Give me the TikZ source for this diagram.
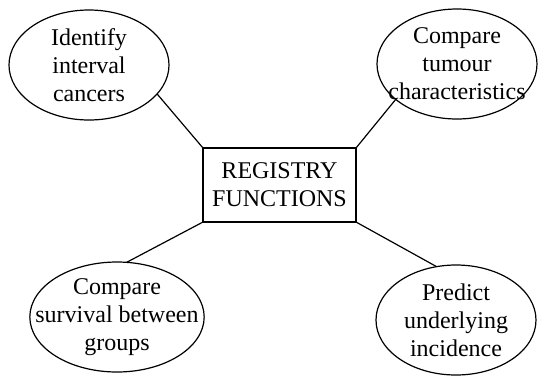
\documentclass[tikz,border=0pt]{standalone}
\usepackage{fontspec}
\setmainfont{Liberation Serif}
\usetikzlibrary{shapes.geometric}

\begin{document}
\begin{tikzpicture}[x=1pt, y=-1pt, line width=1.2pt,
    every node/.style={font=\fontsize{24}{28}\selectfont},
    func/.style={ellipse, draw, align=center, minimum width=160pt,
      minimum height=110pt, inner xsep=-20pt, inner ysep=-4pt, outer sep=0pt},
    hub/.style={rectangle, draw, align=center, minimum width=153pt,
      minimum height=74pt, outer sep=0pt}]
    \useasboundingbox (0,0) rectangle (538,376);

    \node[hub] (reg) at (279.5,185) {REGISTRY\\FUNCTIONS};

    \node[func] (ident) at (89,65) {Identify\\interval\\cancers};
    \node[func] (tum) at (457,64) {Compare\\tumour\\characteristics};
    \node[func, minimum width=170pt] (surv) at (117,317) {Compare\\survival between\\groups};
    \node[func] (pred) at (456,320) {Predict\\underlying\\incidence};

    \path (ident.-23) edge (reg.north west);
    \path (tum.210) edge (reg.north east);
    \path (surv.80) edge (reg.south west);
    \path (pred.110) edge (reg.south east);
\end{tikzpicture}
\end{document}
